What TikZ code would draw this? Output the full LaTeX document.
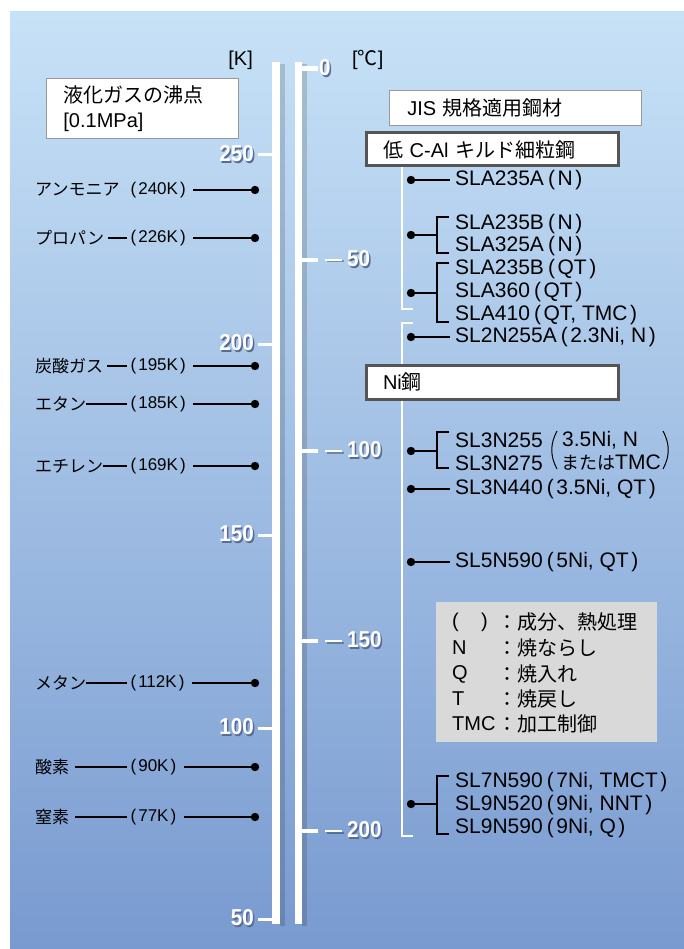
\documentclass[tikz,border=0pt]{standalone}
\usepackage{fontspec}
\setmainfont{Liberation Sans}
\newfontfamily\jpf{Noto Sans CJK JP}
\newfontfamily\numf{Liberation Sans}[FakeStretch=0.9]
\newcommand\JJ[1]{{\jpf #1}}
\newcommand\LP{\kern.2em(\kern.12em}
\newcommand\RP{\kern.12em)\kern.2em}
\definecolor{bgtop}{RGB}{199,226,247}
\definecolor{bgbot}{RGB}{121,154,208}
\definecolor{boxgray}{RGB}{85,85,85}
\definecolor{leggray}{RGB}{217,217,217}
\definecolor{numshadow}{RGB}{88,108,150}
\tikzset{
 gas/.style={anchor=west,inner sep=0pt,font=\fontsize{17}{20}\selectfont},
 stl/.style={anchor=west,inner sep=0pt,font=\fontsize{21}{23}\selectfont},
 leg/.style={anchor=west,inner sep=0pt,font=\fontsize{20}{23}\selectfont},
 gline/.style={line width=2pt,black},
 bline/.style={line width=1.8pt,black},
 wline/.style={line width=2.2pt,white},
 dotr/.style={radius=4.2pt},
 numlab/.style={inner sep=0pt,font=\numf\bfseries\fontsize{23}{24}\selectfont,text=white},
 hdr/.style={draw=gray!80,fill=white,line width=.8pt,inner ysep=0pt,anchor=north west,align=left,font=\fontsize{20}{25}\selectfont},
 grp/.style={draw=boxgray,fill=white,line width=3pt,inner ysep=0pt,anchor=north west,align=left,font=\fontsize{20}{23}\selectfont},
}
\newcommand\numlabel[4]{%
  \node[numlab,anchor=#3] (#1) at (#2) {\makebox[0pt][l]{\kern1.5pt\raisebox{-2pt}{\textcolor{numshadow}{#4}}}#4};}
\begin{document}
\begin{tikzpicture}[x=1pt,y=-1pt]
\useasboundingbox (0,0) rectangle (684,949);
\fill[white] (0,0) rectangle (684,949);
\shade[top color=bgtop,bottom color=bgbot] (10,12) rectangle (684,949);

% headers
\node[hdr,minimum width=192pt,minimum height=60pt,inner xsep=17pt,text width=158pt] (title) at (46,78) {\JJ{液化ガスの沸点}\\{[0.1MPa]}};
\node[inner sep=0pt,anchor=east,font=\fontsize{20}{23}\selectfont] (kunit) at (253,60) {[K]};
\node[inner sep=0pt,anchor=west,font=\fontsize{20}{23}\selectfont] (cunit) at (352,60) {[\JJ{℃}]};

% bars
\fill[black,opacity=.15] (280,64) rectangle (285,926);
\fill[white] (272,62) rectangle (280,924);
\fill[black,opacity=.15] (302,64) rectangle (307,926);
\fill[white] (295,62) rectangle (302,924);

% Kelvin ticks
\foreach \v/\yy in {250/155,200/344,150/535,100/728,50/919}{
  \draw[white,line width=3pt] (258,\yy) -- (273,\yy);
  \numlabel{k\v}{254,\yy}{east}{\v}
}
% Celsius ticks
\draw[white,line width=5pt] (300,69) -- (318,69);
\numlabel{c0}{319,69}{west}{0}
\foreach \v/\yy in {50/260,100/451,150/641,200/831}{
  \draw[white,line width=4pt] (301,\yy) -- (318,\yy);
  \draw[black,opacity=.3,line width=2pt] (326.5,\yy+1.5) -- (343.5,\yy+1.5);
  \draw[white,line width=2pt] (325,\yy) -- (342,\yy);
  \numlabel{c\v}{347,\yy}{west}{\v}
}

% gases
\node[gas] (n1) at (35,190) {\JJ{アンモニア}};
\node[gas] (p1) at (127,190) {\LP 240K\RP};
\coordinate (d1) at (255,190);
\draw[gline] ([xshift=4pt]p1.east) -- (d1);
\fill (d1) circle[dotr];
\foreach \i/\nm/\kk/\yy/\gap in {2/プロパン/226K/238/4,3/炭酸ガス/195K/366/4,4/エタン/185K/404/0,5/エチレン/169K/466/0,6/メタン/112K/683/0,7/酸素/90K/767/6,8/窒素/77K/817/6}{
  \node[gas] (n\i) at (35,\yy) {\JJ{\nm}};
  \node[gas] (p\i) at (127,\yy) {\LP\kk\RP};
  \coordinate (d\i) at (255,\yy);
  \draw[gline] ([xshift=\gap pt]n\i.east) -- (p\i.west);
  \draw[gline] ([xshift=4pt]p\i.east) -- (d\i);
  \fill (d\i) circle[dotr];
}

% steel white guide lines
\draw[wline] (402,166) -- (402,309) -- (413,309);
\draw[wline] (413,323) -- (402,323) -- (402,836) -- (413,836);

\node[hdr,minimum width=252pt,minimum height=35pt,inner xsep=18pt,text width=216pt] (jis) at (389,90) {JIS \JJ{規格適用鋼材}};
\node[grp,minimum width=252pt,minimum height=33pt,inner xsep=17pt,text width=218pt] (lowc) at (364.5,131.5) {\JJ{低} C-Al \JJ{キルド細粒鋼}};
\node[grp,minimum width=252pt,minimum height=34pt,inner xsep=17pt,text width=218pt] (nist) at (364.5,363.5) {Ni\JJ{鋼}};

% single steel rows
\foreach \i/\txt/\yy in {1/{SLA235A\LP N\RP}/180,2/{SL2N255A\LP 2.3Ni, N\RP}/337,3/{SL3N440\LP 3.5Ni, QT\RP}/489,4/{SL5N590\LP 5Ni, QT\RP}/562}{
  \node[stl] (s\i) at (455,\yy) {\txt};
  \coordinate (e\i) at (411,\yy);
  \draw[bline] (e\i) -- ([xshift=-5pt]s\i.west);
  \fill (e\i) circle[dotr];
}

% group 1
\node[stl] (g1a) at (455,224) {SLA235B\LP N\RP};
\node[stl] (g1b) at (455,246) {SLA325A\LP N\RP};
\coordinate (f1) at (411,235);
\draw[bline] (449,217) -- (437,217) -- (437,253) -- (449,253);
\draw[bline] (f1) -- (437,235);
\fill (f1) circle[dotr];
% group 2
\node[stl] (g2a) at (455,269) {SLA235B\LP QT\RP};
\node[stl] (g2b) at (455,292) {SLA360\LP QT\RP};
\node[stl] (g2c) at (455,315) {SLA410\LP QT, TMC\RP};
\coordinate (f2) at (411,293);
\draw[bline] (449,263) -- (437,263) -- (437,322) -- (449,322);
\draw[bline] (f2) -- (437,293);
\fill (f2) circle[dotr];
% group 3
\node[stl] (g3a) at (455,440) {SL3N255};
\node[stl] (g3b) at (455,463) {SL3N275};
\node[stl] (g3c) at (562,440) {3.5Ni, N};
\node[stl] (g3d) at (561,463) {{\jpf\fontsize{18}{23}\selectfont または}TMC};
\draw[line width=1pt] (557,431) .. controls (550,444) and (550,456) .. (557,469);
\draw[line width=1pt] (663,431) .. controls (670,444) and (670,456) .. (663,469);
\coordinate (f3) at (411,451);
\draw[bline] (449,432) -- (437,432) -- (437,468) -- (449,468);
\draw[bline] (f3) -- (437,451);
\fill (f3) circle[dotr];
% group 4
\node[stl] (g4a) at (455,782) {SL7N590\LP 7Ni, TMCT\RP};
\node[stl] (g4b) at (455,805) {SL9N520\LP 9Ni, NNT\RP};
\node[stl] (g4c) at (455,828) {SL9N590\LP 9Ni, Q\RP};
\coordinate (f4) at (411,804);
\draw[bline] (449,776) -- (437,776) -- (437,834) -- (449,834);
\draw[bline] (f4) -- (437,804);
\fill (f4) circle[dotr];

% legend
\node[fill=leggray,inner sep=0pt,anchor=north west,minimum width=221pt,minimum height=140pt] (legbox) at (436,602) {};
\node[leg] (l1a) at (452,622) {(};
\node[leg] (l1b) at (481,622) {)};
\node[leg] (l1c) at (497,622) {\JJ{：成分、熱処理}};
\node[leg] (l2a) at (452,648) {N};
\node[leg] (l2c) at (497,648) {\JJ{：焼ならし}};
\node[leg] (l3a) at (452,674) {Q};
\node[leg] (l3c) at (497,674) {\JJ{：焼入れ}};
\node[leg] (l4a) at (452,699) {T};
\node[leg] (l4c) at (497,699) {\JJ{：焼戻し}};
\node[leg] (l5a) at (452,724) {TMC};
\node[leg] (l5c) at (497,724) {\JJ{：加工制御}};
\end{tikzpicture}
\end{document}
